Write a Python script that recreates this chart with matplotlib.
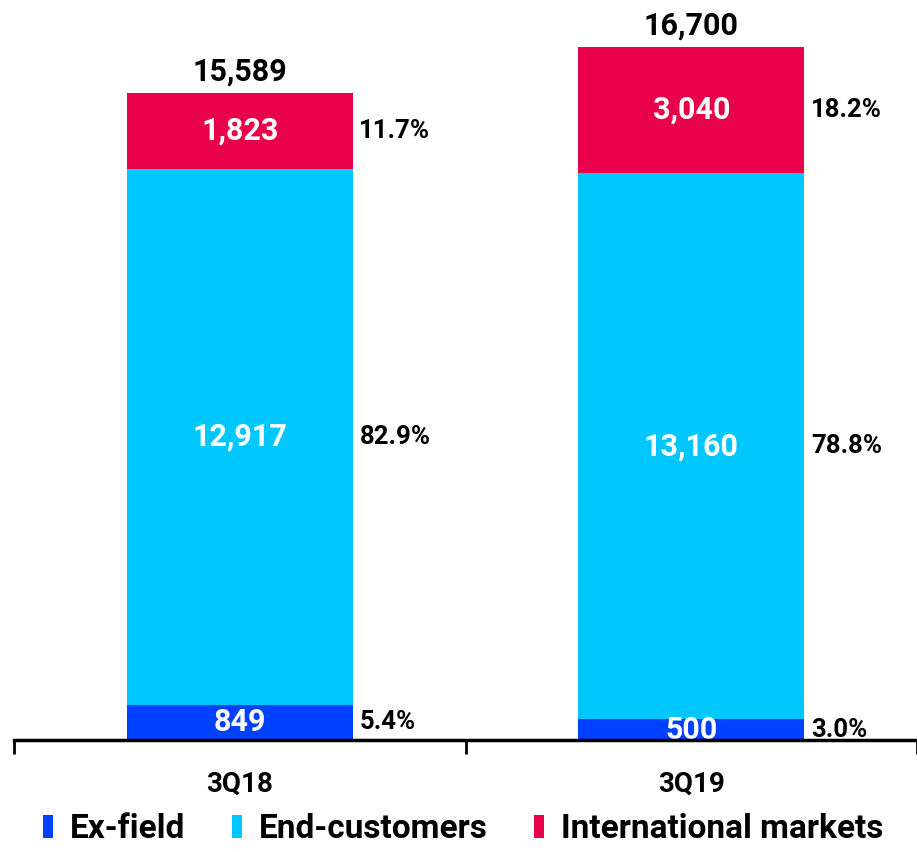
import matplotlib
matplotlib.use("Agg")
import matplotlib.pyplot as plt
from matplotlib.patches import Patch

categories = ["3Q18", "3Q19"]
series = ["Ex-field", "End-customers", "International markets"]
ex_field = [849, 500]
end_customers = [12917, 13160]
international = [1823, 3040]
colors = ["#0040FF", "#00C8FF", "#E8004A"]

plt.rcParams["font.family"] = ["Roboto", "DejaVu Sans"]
plt.rcParams["font.weight"] = "bold"

fig = plt.figure(figsize=(9.17, 8.52), dpi=100)
ax = fig.add_axes([14 / 917, 112 / 852, 1 - 14 / 917, 740 / 852])

x = list(range(len(categories)))
stacks = [ex_field, end_customers, international]
totals = [sum(v) for v in zip(*stacks)]
bottom = [0] * len(categories)
w = 0.5
for vals, col in zip(stacks, colors):
    ax.bar(x, vals, w, bottom=bottom, color=col, zorder=2)
    for i, v in enumerate(vals):
        mid = bottom[i] + v / 2
        ax.text(x[i], mid, f"{v:,}", color="white", fontsize=22,
                ha="center", va="center", fontweight="bold", zorder=3)
        ax.text(x[i] + w / 2 + 0.015, mid, f"{v / totals[i] * 100:.1f}%",
                color="black", fontsize=18.5, ha="left", va="center",
                fontweight="bold", zorder=3)
    bottom = [b + v for b, v in zip(bottom, vals)]

for i, t in enumerate(totals):
    ax.text(x[i], t + 150, f"{t:,}", fontsize=22, ha="center", va="bottom",
            fontweight="bold")

ax.set_xlim(-0.5, 1.5)
ax.set_ylim(0, 17830)
ax.set_yticks([])
ax.set_xticks(x)
ax.set_xticklabels(categories, fontsize=20, fontweight="bold")
ax.tick_params(axis="x", which="major", length=0, pad=22)
ax.set_xticks([-0.5, 0.5, 1.5], minor=True)
ax.tick_params(axis="x", which="minor", length=10, width=2, direction="out")
for s in ["top", "right", "left"]:
    ax.spines[s].set_visible(False)
ax.spines["bottom"].set_linewidth(2.5)
ax.spines["bottom"].set_zorder(5)

handles = [Patch(facecolor=c, label=s) for c, s in zip(colors, series)]
fig.legend(handles=handles, loc="lower center", bbox_to_anchor=(0.505, -0.027),
           ncol=3, frameon=False, handlelength=0.3, handleheight=0.7,
           handletextpad=0.5, columnspacing=1.4,
           prop={"size": 24, "weight": "bold"})

fig.savefig("out.png", dpi=100)
